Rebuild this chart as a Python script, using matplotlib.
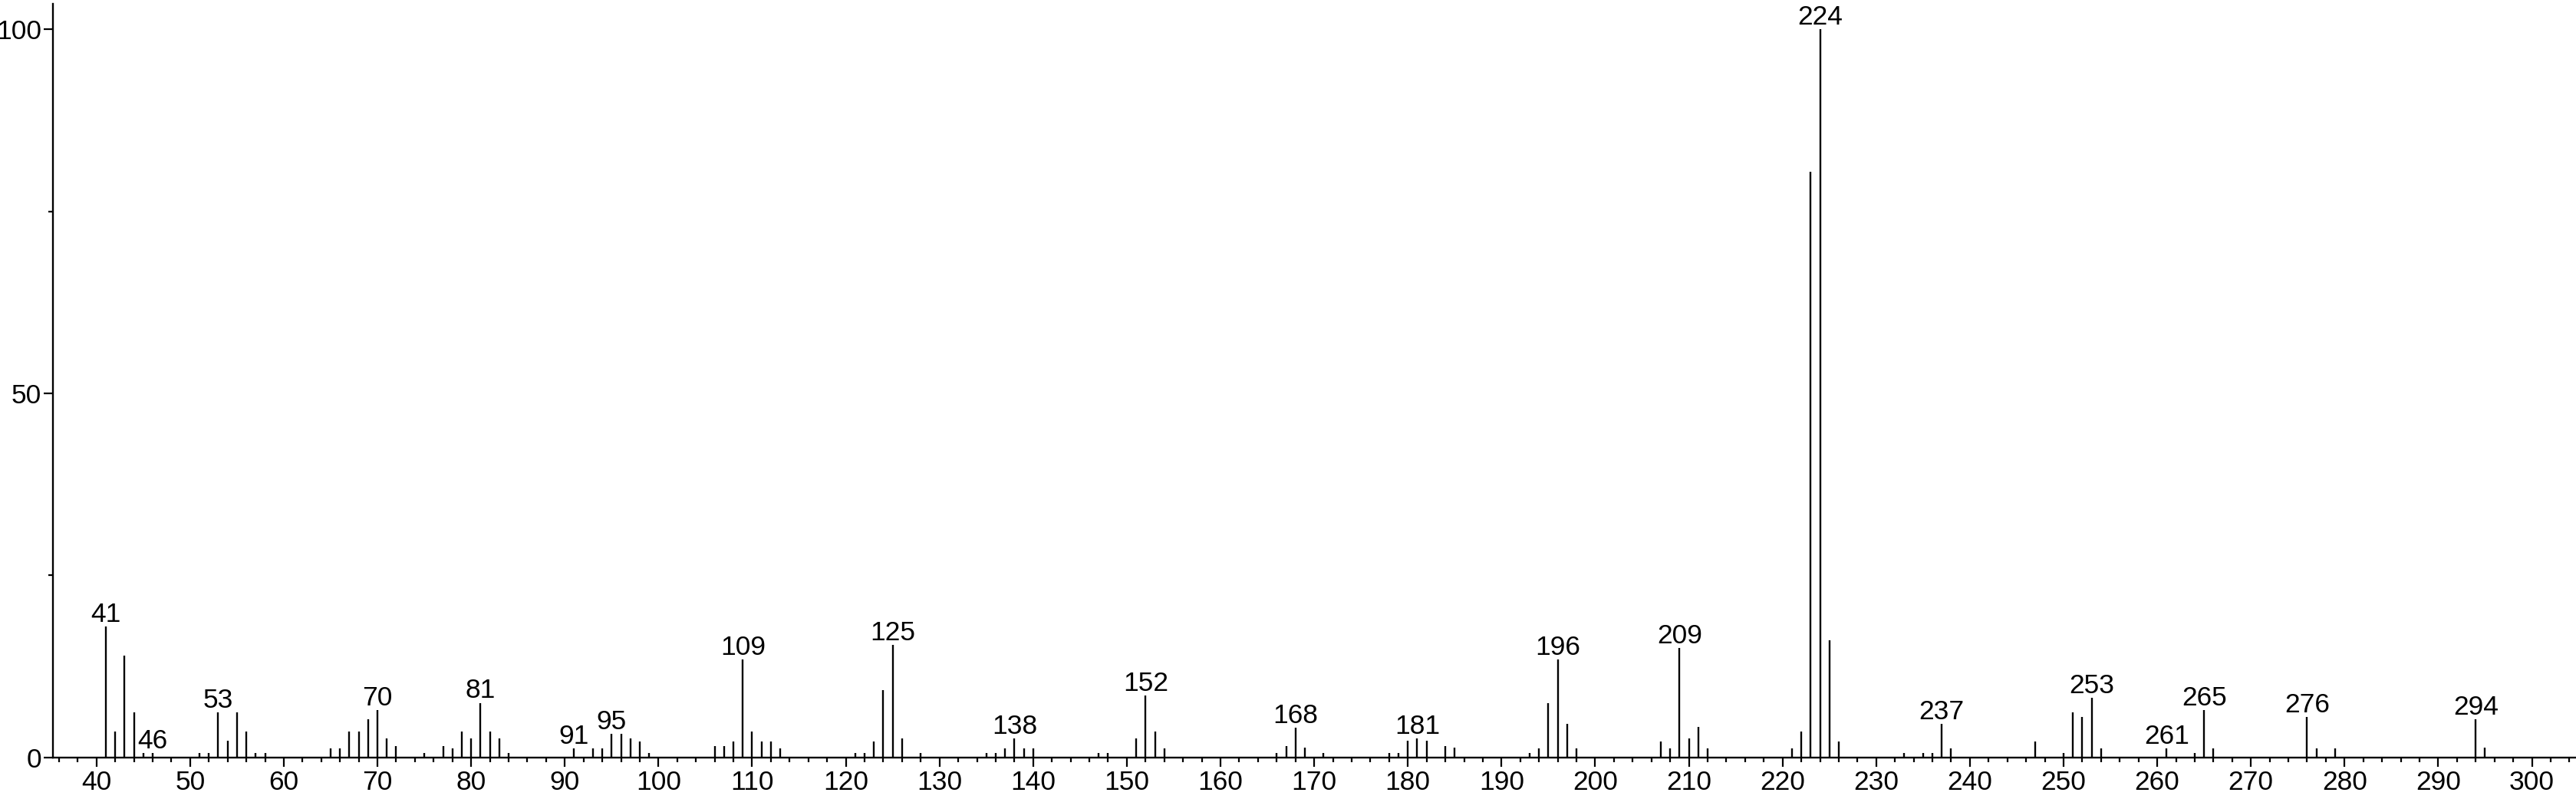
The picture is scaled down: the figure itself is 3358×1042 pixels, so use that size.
import matplotlib
matplotlib.use("Agg")
import matplotlib.pyplot as plt
from matplotlib.ticker import MultipleLocator, FixedLocator

plt.rcParams['font.family'] = ['Liberation Sans', 'DejaVu Sans']

# m/z と相対強度
mz = [41, 42, 43, 44, 45, 46, 51, 52, 53, 54, 55, 56, 57, 58,
      65, 66, 67, 68, 69, 70, 71, 72, 75, 77, 78, 79, 80, 81, 82, 83, 84,
      91, 93, 94, 95, 96, 97, 98, 99,
      106, 107, 108, 109, 110, 111, 112, 113,
      121, 122, 123, 124, 125, 126, 128,
      135, 136, 137, 138, 139, 140, 147, 148,
      151, 152, 153, 154, 166, 167, 168, 169, 171,
      178, 179, 180, 181, 182, 184, 185,
      193, 194, 195, 196, 197, 198,
      207, 208, 209, 210, 211, 212,
      221, 222, 223, 224, 225, 226,
      233, 235, 236, 237, 238, 247,
      250, 251, 252, 253, 254,
      261, 264, 265, 266, 276, 277, 279, 294, 295]
intensity = [18.0, 3.5, 14.0, 6.2, 0.6, 0.6, 0.6, 0.6, 6.2, 2.3, 6.2, 3.5, 0.6, 0.6,
             1.2, 1.2, 3.5, 3.5, 5.2, 6.5, 2.6, 1.6, 0.6, 1.6, 1.2, 3.5, 2.6, 7.5, 3.5, 2.6, 0.6,
             1.2, 1.2, 1.2, 3.2, 3.2, 2.6, 2.2, 0.6,
             1.6, 1.6, 2.2, 13.4, 3.5, 2.2, 2.2, 1.2,
             0.6, 0.6, 2.2, 9.2, 15.4, 2.6, 0.6,
             0.6, 0.6, 1.2, 2.6, 1.2, 1.2, 0.6, 0.6,
             2.6, 8.5, 3.5, 1.2, 0.6, 1.6, 4.1, 1.3, 0.6,
             0.6, 0.6, 2.3, 2.6, 2.3, 1.6, 1.3,
             0.6, 1.2, 7.5, 13.4, 4.6, 1.2,
             2.2, 1.2, 15.0, 2.6, 4.2, 1.2,
             1.2, 3.5, 80.4, 100.0, 16.1, 2.2,
             0.6, 0.6, 0.6, 4.6, 1.2, 2.2,
             0.6, 6.2, 5.5, 8.2, 1.2,
             1.2, 0.6, 6.5, 1.2, 5.5, 1.2, 1.2, 5.2, 1.3]

# ラベルを付けるピーク
labeled = [41, 46, 53, 70, 81, 91, 95, 109, 125, 138, 152, 168, 181,
           196, 209, 224, 237, 253, 261, 265, 276, 294]

fig = plt.figure(figsize=(33.58, 10.42), dpi=100)
ax = fig.add_axes([0.02064, 0.0521, 0.97898, 0.9431])

ax.vlines(mz, 0, intensity, colors='black', linewidth=1.7)

for m in labeled:
    h = intensity[mz.index(m)]
    ax.annotate(str(m), (m, h), xytext=(0, 4.5), textcoords='offset points',
                ha='center', va='baseline', fontsize=25.5)

ax.set_xlim(35.38, 304.6)
ax.set_ylim(0, 103.5)

ax.xaxis.set_major_locator(MultipleLocator(10))
ax.xaxis.set_minor_locator(MultipleLocator(2))
ax.set_xticks(range(40, 301, 10))
ax.yaxis.set_major_locator(FixedLocator([0, 50, 100]))
ax.yaxis.set_minor_locator(FixedLocator([25, 75]))

ax.spines['top'].set_visible(False)
ax.spines['right'].set_visible(False)
ax.spines['left'].set_linewidth(1.7)
ax.spines['bottom'].set_linewidth(1.7)

ax.tick_params(axis='both', which='major', direction='out', length=8.9, width=1.6,
               labelsize=25.5, pad=2.5)
ax.tick_params(axis='both', which='minor', direction='out', length=4.1, width=1.6)
ax.tick_params(axis='y', which='major', pad=2)

fig.savefig('out.png', dpi=100)
